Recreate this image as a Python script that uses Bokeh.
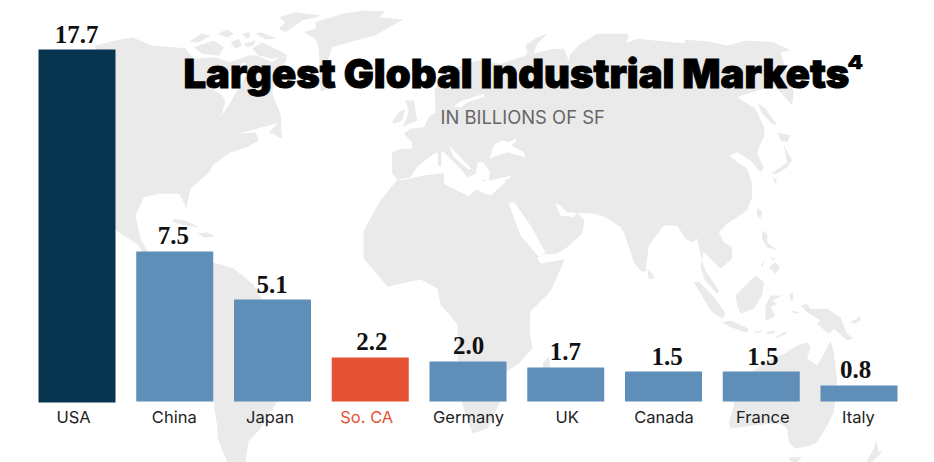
from bokeh.plotting import figure
from bokeh.models import Range1d, ColumnDataSource
from bokeh.core.properties import value
from bokeh.embed import file_html
from bokeh.resources import INLINE

categories = ["USA", "China", "Japan", "So. CA", "Germany", "UK", "Canada", "France", "Italy"]
values = [17.7, 7.5, 5.1, 2.2, 2.0, 1.7, 1.5, 1.5, 0.8]
value_labels = ["17.7", "7.5", "5.1", "2.2", "2.0", "1.7", "1.5", "1.5", "0.8"]
bar_colors = ["#07344F", "#5F8EB8", "#5F8EB8", "#E55235", "#5F8EB8", "#5F8EB8", "#5F8EB8", "#5F8EB8", "#5F8EB8"]
cat_colors = ["#222222", "#222222", "#222222", "#E55235", "#222222", "#222222", "#222222", "#222222", "#222222"]
title_text = "Largest Global Industrial Markets"
title_note = "\u2074"
subtitle_text = "IN BILLIONS OF SF"

W, H = 934, 462
ORIGIN = 0
STEP, BAR_W = 97.75, 77
PAGE_BASE, PX_PER_UNIT = 401, 20
FIRST_X = 76.5
MAP_COLOR = "#EAEAEA"

# decorative world-map background, traced in page pixels from zoomed crops
def z(ox, oy, pts):
    return [(ox + a / 3, oy + b / 3) for a, b in pts]
Z5 = lambda pts: z(360, 20, pts)
Z6 = lambda pts: z(560, 20, pts)
Z7 = lambda pts: z(620, 225, pts)
Z8 = lambda pts: z(115, 5, pts)
C4 = lambda pts: z(467, 231, pts)

north_america = Z8([(-60,120),(0,105),(50,95),(110,120),(210,128),(235,160),(300,155),(340,170),(375,160),(400,150),(425,150),(470,170),(490,155),(515,150),(510,170),(480,195),(470,260),(480,290),(495,325),(497,350),(440,365),(370,385),(420,380),(430,405),(395,425),(345,440),(290,480),(285,495),(270,510),(225,550),(212,610),(205,590),(190,565),(130,565),(85,575),(60,630),(75,700)]) + [(175,300),(137,244),(117,231),(95,200)]
south_america = [(205,258),(213,262),(233,268),(253,284),(262,300),(300,320),(305,350),(290,385),(277,401),(260,428),(248,441),(245,462),(227,462),(217,438),(217,428),(213,401),(190,330)]
greenland = Z8([(565,80),(600,70),(600,50),(680,25),(745,15),(810,18),(790,35),(865,42),(820,65),(780,90),(700,110),(650,125),(635,170),(640,250),(615,258),(610,130),(600,100)])
arctic = [
    Z8([(220,110),(255,85),(285,90),(250,110)]),
    Z8([(235,125),(295,105),(325,125),(310,150),(260,145)]),
    Z8([(305,85),(335,72),(355,85),(335,97)]),
    Z8([(345,110),(370,100),(380,120),(360,130)]),
    Z8([(380,85),(400,80),(405,95),(390,98)]),
    Z8([(385,115),(420,105),(415,120),(395,125)]),
    Z8([(420,85),(435,80),(485,98),(450,102)]),
    Z8([(410,130),(440,110),(500,140),(515,150),(470,160),(430,150)]),
    Z8([(490,70),(510,50),(490,35),(540,20),(620,30),(560,45),(510,80)]),
    Z8([(460,380),(495,345),(500,400),(470,385)]),
    Z8([(175,640),(210,645),(250,665),(210,660),(170,650)]),
    Z8([(245,685),(275,680),(300,692),(270,697)]),
]
eurasia_africa = (
    Z5([(95,395),(125,385),(155,385),(155,365),(130,340),(150,325),(190,320),(205,290),(225,275),(222,208),(260,150),(350,120),(420,130),(495,105),(500,95),(520,100),(580,85),(610,85),(625,120)])
    + Z6([(30,100),(60,70),(110,40),(200,40),(205,50),(195,68),(230,55),(370,68),(375,58),(440,62),(500,75),(560,60),(640,65),(690,90),(660,95),(670,130),(700,215),(695,255),(660,215),(640,195),(590,210),(545,225),(530,230),(585,265),(610,320),(612,345),(595,380),(590,400),(610,440),(600,455),(570,420),(530,395),(508,405),(530,425),(560,445),(575,490),(575,530),(560,570),(500,610),(475,635),(490,665)])
    + Z7([(335,65),(335,100),(300,130),(250,80),(240,120),(250,160),(290,205),(295,195),(255,135),(245,110),(230,40),(215,50),(195,40),(170,0),(130,0),(85,60),(75,140),(60,135),(40,110),(10,20)])
    + Z6([(180,620),(135,590),(100,580),(20,575),(0,555)])
    + Z5([(565,540),(580,535),(600,585),(640,590),(650,575),(672,600),(665,640),(620,680),(590,700)])
    + [(541,254),(537,258),(540,263),(564,259),(550,291),(530,311),(529,331),(532,348),(517,364),(506,371),(500,401),(487,428),(472,433),(462,405),(457,370),(457,324),(440,304),(437,288),(420,279),(387,286),(363,258),(363,231),(367,223),(380,200),(397,179)]
    + Z5([(95,460)])
)
islands = [
    Z5([(135,240),(160,240),(165,270),(170,300),(125,320),(135,300),(145,275)]),
    Z5([(95,305),(115,275),(135,265),(125,300),(100,310)]),
    Z5([(495,75),(530,50),(560,40),(530,70),(520,100),(500,95)]),
    Z6([(590,245),(615,265),(650,315),(635,310),(605,280)]),
    Z6([(650,335),(690,345),(680,365),(660,360)]),
    Z6([(670,375),(695,420),(680,440),(650,460),(630,460),(660,440),(680,425)]),
    Z6([(635,470),(650,480),(645,490)]),
    Z6([(590,560),(605,575),(600,595),(590,585)]),
    Z7([(425,15),(440,25),(440,50),(470,75),(440,65),(425,40)]),
    Z7([(420,120),(435,100),(425,125)]),
    Z7([(450,95),(465,100),(455,105)]),
    Z7([(445,125),(465,110),(478,125),(465,145)]),
    Z7([(80,130),(100,150),(100,160),(85,160)]),
    Z7([(220,170),(235,168),(285,220),(315,265),(305,280),(270,255)]),
    Z7([(305,290),(330,285),(385,310),(380,322),(330,305)]),
    Z7([(400,318),(420,315),(425,320),(405,322)]),
    Z7([(435,320),(465,315),(460,325),(440,325)]),
    Z7([(465,335),(495,318),(498,325),(470,338)]),
    Z7([(345,210),(405,150),(430,170),(425,210),(400,250),(360,265),(350,240)]),
    Z7([(435,240),(450,210),(485,210),(455,225),(470,235),(450,245),(465,270),(450,280),(435,285)]),
    Z7([(508,205),(518,200),(518,225),(510,225)]),
    Z7([(515,255),(535,260),(530,265),(515,262)]),
    Z7([(540,240),(560,235),(570,250),(620,250),(660,275),(680,325),(698,340),(680,345),(640,310),(625,325),(590,295),(600,285),(560,260)]),
    Z7([(690,290),(720,272),(720,285),(700,295)]),
    Z7([(505,375),(530,360),(560,350),(570,365),(560,400),(590,420),(610,385),(630,345),(640,380),(650,470),(640,560),(620,600),(590,650),(570,660),(525,670),(505,650),(500,610),(480,595),(440,595),(400,600),(330,610),(325,590),(340,540),(340,480),(420,420),(500,380)]),
    Z7([(505,695),(545,695),(530,710),(510,708)]),
    C4([(1225,630),(1230,640),(1232,660),(1245,660),(1215,690),(1195,693),(1220,650)]),
    C4([(225,395),(245,375),(250,420),(230,430)]),
]
water = [
    Z8([(300,215),(360,190),(385,170),(400,195),(380,230),(345,290),(315,335),(330,290),(320,270),(290,250)]),
    Z5([(110,478),(150,470),(172,437),(222,398),(247,392),(300,445),(322,472),(345,460),(352,425),(368,425),(388,455),(385,480),(455,465),(430,490),(390,525),(345,508),(325,527),(300,515),(250,490),(250,458),(190,465),(130,478)]),
    Z5([(265,375),(285,395),(333,445),(325,448),(280,410)]),
    Z5([(388,415),(395,385),(405,370),(425,360),(445,365),(470,352),(465,365),(450,375),(490,395),(495,412),(475,405),(440,395),(410,405)]),
    Z5([(280,258),(300,242),(370,220),(372,228),(320,245),(300,262)]),
    [(508,202),(514,202),(530,225),(545,252),(538,256),(520,235)],
]
med_islands = [
    Z5([(232,392),(243,392),(242,438),(232,436)]),
    Z5([(355,476),(380,480),(370,483)]),
    Z5([(430,480),(445,476),(440,486)]),
]

def unzip(polys):
    return [[a for a, _ in poly] for poly in polys], [[b for _, b in poly] for poly in polys]

x_start = (ORIGIN - FIRST_X) / STEP
y_top = (PAGE_BASE - ORIGIN) / PX_PER_UNIT
y_bottom = (PAGE_BASE - (ORIGIN + H)) / PX_PER_UNIT
p = figure(width=W, height=H, output_backend="svg", toolbar_location=None,
           x_range=Range1d(x_start, x_start + W / STEP), y_range=Range1d(y_bottom, y_top),
           min_border=0, outline_line_color=None, background_fill_color="white", border_fill_color="white")
p.axis.visible = False
p.grid.visible = False
p.extra_x_ranges = {"page_x": Range1d(ORIGIN, ORIGIN + W)}
p.extra_y_ranges = {"page_y": Range1d(ORIGIN + H, ORIGIN)}
usa_px = 353 / 17.7
p.extra_y_ranges["usa"] = Range1d(-(ORIGIN + H - 402) / usa_px, (402 - ORIGIN) / usa_px)

land = [north_america, south_america, greenland, eurasia_africa] + arctic + islands
xs, ys = unzip(land)
p.patches(xs, ys, x_range_name="page_x", y_range_name="page_y", fill_color=MAP_COLOR, line_color=None)
xs, ys = unzip(water)
p.patches(xs, ys, x_range_name="page_x", y_range_name="page_y", fill_color="white", line_color=None)
xs, ys = unzip(med_islands)
p.patches(xs, ys, x_range_name="page_x", y_range_name="page_y", fill_color=MAP_COLOR, line_color=None)

idx = list(range(len(categories)))
src = ColumnDataSource(dict(x=idx[1:], top=values[1:], color=bar_colors[1:]))
p.vbar(x="x", top="top", bottom=0, width=BAR_W / STEP, fill_color="color", line_color=None, source=src)
p.vbar(x=[0], top=[values[0]], bottom=0, width=BAR_W / STEP, fill_color=bar_colors[0], line_color=None, y_range_name="usa")

BL = 0.38  # baseline correction of the svg text, in em
VAL_FS, CAT_FS, TITLE_FS, NOTE_FS, SUB_FS = 25, 16.5, 40, 34, 18.4
label_dx = [-0.5, -1.5, -0.5, 1.5, 0.5, -0.5, 3.5, 1.5, -3.5]
label_dy = [d - BL * VAL_FS for d in [-4, -7, -6, -7, -7, -7, -6, -6, -7]]
lab = ColumnDataSource(dict(x=idx, y=values, t=value_labels, dx=label_dx, dy=label_dy))
p.text(x="x", y="y", text="t", x_offset="dx", y_offset="dy", source=lab, text_align="center",
       text_baseline="alphabetic", text_font=value("Liberation Serif"), text_font_style="bold",
       text_font_size=f"{VAL_FS}px", text_color="#111111")

cat_dx = [-3.5, -0.5, -2.5, -3.5, 0.5, 1.5, 0.5, 1.5, -0.5]
cats = ColumnDataSource(dict(x=idx, y=[0] * 9, t=categories, c=cat_colors, dx=cat_dx, dy=[22 - BL * CAT_FS] * 9))
p.text(x="x", y="y", text="t", x_offset="dx", y_offset="dy", text_color="c", source=cats, text_align="center",
       text_baseline="alphabetic", text_font=value("Inter"), text_font_size=f"{CAT_FS}px")

p.text(x=[183], y=[88], text=[title_text], y_offset=[-BL * TITLE_FS], x_range_name="page_x", y_range_name="page_y",
       text_font=value("Inter Black"), text_font_style="bold", text_font_size=f"{TITLE_FS}px", text_color="#000000",
       text_outline_color="#000000", text_baseline="alphabetic", text_align="left")
p.text(x=[846], y=[84], text=[title_note], y_offset=[-BL * NOTE_FS], x_range_name="page_x", y_range_name="page_y",
       text_font=value("Inter Black"), text_font_size=f"{NOTE_FS}px", text_color="#000000",
       text_baseline="alphabetic", text_align="left")
p.text(x=[440], y=[123], text=[subtitle_text], y_offset=[-BL * SUB_FS], x_range_name="page_x", y_range_name="page_y",
       text_font=value("Inter"), text_font_size=f"{SUB_FS}px", text_color="#666666",
       text_baseline="alphabetic", text_align="left")

open("out.html", "w").write(file_html(p, INLINE))
